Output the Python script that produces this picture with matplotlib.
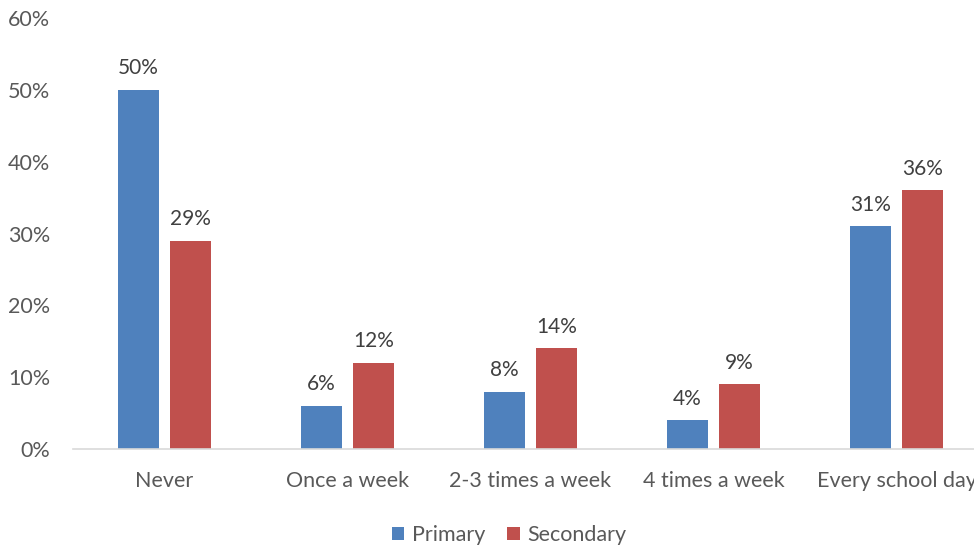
import matplotlib
matplotlib.use("Agg")
import matplotlib.pyplot as plt
import numpy as np

categories = ["Never", "Once a week", "2-3 times a week", "4 times a week", "Every school day"]
primary = [50, 6, 8, 4, 31]
secondary = [29, 12, 14, 9, 36]
series_names = ["Primary", "Secondary"]
colors = ["#4F81BD", "#C0504D"]

plt.rcParams["font.family"] = ["Lato", "DejaVu Sans"]

fig = plt.figure(figsize=(9.74, 5.47), dpi=100)
ax = fig.add_axes([73 / 974, 1 - 449 / 547, 915 / 974, 431 / 547])

x = np.arange(len(categories))
w = 0.224
off = 0.142
b1 = ax.bar(x - off, primary, w, color=colors[0], label=series_names[0])
b2 = ax.bar(x + off, secondary, w, color=colors[1], label=series_names[1])

for bars, vals in ((b1, primary), (b2, secondary)):
    for r, v in zip(bars, vals):
        ax.text(r.get_x() + r.get_width() / 2, v + 1.6, f"{v}%",
                ha="center", va="bottom", fontsize=15, color="#404040")

ax.set_xlim(-0.5, len(categories) - 0.5)
ax.set_ylim(0, 60)
ax.set_yticks(range(0, 61, 10))
ax.set_yticklabels([f"{t}%" for t in range(0, 61, 10)])
ax.set_xticks(x)
ax.set_xticklabels(categories)
ax.tick_params(axis="both", length=0, labelsize=15.5, colors="#595959")
ax.tick_params(axis="y", pad=16.5)
ax.tick_params(axis="x", pad=15.5)
for s in ("top", "right", "left"):
    ax.spines[s].set_visible(False)
ax.spines["bottom"].set_color("#D9D9D9")
ax.spines["bottom"].set_linewidth(1.2)

leg = fig.legend(handles=[b1, b2], loc="center", bbox_to_anchor=(509 / 974, 1 - 535 / 547),
                 ncol=2, frameon=False, fontsize=15.5, handlelength=0.6, handleheight=0.6,
                 handletextpad=0.35, columnspacing=1.0)
for t in leg.get_texts():
    t.set_color("#595959")

fig.savefig("out.png", dpi=100)
